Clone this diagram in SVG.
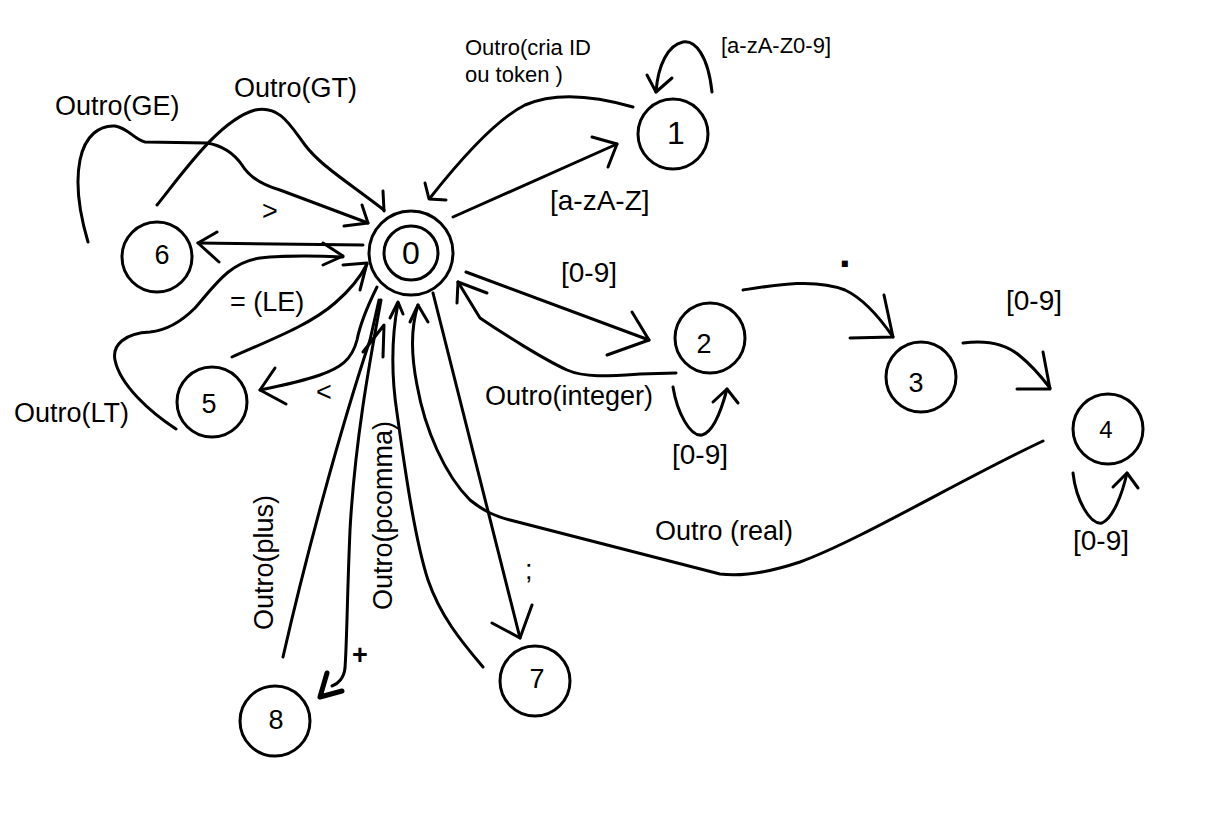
<svg xmlns="http://www.w3.org/2000/svg" width="1216" height="820" viewBox="0 0 1216 820">
<style>
  .bg{fill:#fff}
  .node circle{fill:none;stroke:#000;stroke-width:3}
  .node text{font-family:"Liberation Sans",Arial,sans-serif;font-size:27px;fill:#000;text-anchor:middle}
  .edge path{fill:none;stroke:#000;stroke-width:3;stroke-linecap:round;stroke-linejoin:round}
  .edge path.bold{stroke-width:5}
  .lbl{font-family:"Liberation Sans",Arial,sans-serif;font-size:27px;fill:#000}
  .br{font-size:28px}
  .sm{font-size:22px}
</style>
<rect class="bg" x="0" y="0" width="1216" height="820"/>

<g id="connectors" class="edge">
  <!-- 0 -> 1 -->
  <path d="M453,217 L617,144"/>
  <path d="M592,137 L617,144 L608,167"/>
  <!-- 1 -> 0 Outro(cria ID ou token) -->
  <path d="M633,107 C595,96 555,92 525,105 C495,120 460,160 430,198"/>
  <path d="M425,183 L429,199 L446,200"/>
  <!-- 1 self loop -->
  <path d="M712,92 C708,55 695,40 683,42 C668,45 658,65 656,92"/>
  <path d="M647,75 L656,92 L672,78"/>
  <!-- 0 -> 2 -->
  <path d="M466,272 L649,340"/>
  <path d="M632,312 L649,340 L607,355"/>
  <!-- 2 -> 0 Outro(integer) -->
  <path d="M676,373 L640,374 C610,376 585,378 567,370 C545,360 505,335 480,318 L458,282"/>
  <path d="M457,303 L458,282 L487,293"/>
  <!-- 2 self loop -->
  <path d="M673,387 C677,412 690,437 702,435 C714,432 722,408 727,389"/>
  <path d="M713,402 L727,389 L738,403"/>
  <!-- 2 -> 3 -->
  <path d="M743,290 C775,285 815,278 845,290 C862,298 880,318 893,337"/>
  <path d="M850,338 L893,337 L884,295"/>
  <!-- 3 -> 4 -->
  <path d="M963,343 C985,340 1005,343 1020,356 C1030,364 1040,375 1050,388"/>
  <path d="M1017,389 L1050,389 L1043,352"/>
  <!-- 4 self loop -->
  <path d="M1073,473 C1076,500 1090,525 1102,523 C1113,518 1122,495 1127,473"/>
  <path d="M1113,487 L1127,473 L1138,488"/>
  <!-- 4 -> 0 Outro (real) -->
  <path d="M1043,441 C960,480 860,540 800,562 C770,572 745,577 720,574 L510,520 C495,516 485,512 470,500 C445,475 425,430 417,385 C412,360 410,330 418,305"/>
  <path d="M410,322 L418,305 L428,322"/>
  <!-- 7 -> 0 Outro(pcomma) -->
  <path d="M483,667 C460,640 440,615 428,580 C415,540 405,470 397,413 C392,380 391,340 398,303"/>
  <path d="M390,318 L398,302 L403,314"/>
  <!-- 0 -> 7 ; -->
  <path d="M433,293 L520,638"/>
  <path d="M492,623 L520,638 L532,605"/>
  <!-- 0 -> 8 + -->
  <path d="M381,300 C370,360 355,440 350,530 C347,600 347,640 345,668 C344,678 338,684 332,686"/>
  <path class="bold" d="M327,673 L320,697 L342,691"/>
  <!-- 8 -> 0 Outro(plus) -->
  <path d="M283,657 C305,560 340,430 370,340 L379,300"/>
  <path d="M383,357 L384,325 L363,352"/>
  <!-- 0 -> 5 < -->
  <path d="M377,287 C368,305 360,325 357,340 C352,360 340,368 320,375 C300,382 280,386 260,390"/>
  <path d="M275,368 L260,390 L286,404"/>
  <!-- 5 -> 0 = (LE) -->
  <path d="M232,357 C270,340 310,325 335,303 C350,290 360,278 367,264"/>
  <path d="M343,265 L367,263 L360,290"/>
  <!-- 5 -> 0 Outro(LT) -->
  <path d="M176,429 C150,412 120,385 115,360 C112,345 125,333 150,332 C170,330 185,318 195,308 C215,285 230,262 260,258 C290,255 320,256 343,257"/>
  <path d="M323,243 L343,256 L323,265"/>
  <!-- 0 -> 6 > -->
  <path d="M363,245 L198,243"/>
  <path d="M217,232 L198,243 L219,262"/>
  <!-- 6 -> 0 Outro(GE) -->
  <path d="M88,242 C80,215 75,185 80,160 C85,135 100,125 115,126 C128,128 135,140 145,142 L207,143 C225,146 235,155 242,165 C250,178 262,185 280,190 L368,223"/>
  <path d="M362,205 L368,223 L344,226"/>
  <!-- 6 -> 0 Outro(GT) -->
  <path d="M157,205 C185,170 220,120 255,110 C280,105 290,125 305,145 C320,165 345,180 384,210"/>
  <path d="M383,191 L384,211"/>
</g>

<g id="labels">
  <text class="lbl sm" x="465" y="55">Outro(cria ID</text>
  <text class="lbl sm" x="465" y="82">ou token )</text>
  <text class="lbl sm" x="721" y="53">[a-zA-Z0-9]</text>
  <text class="lbl br" x="550" y="210">[a-zA-Z]</text>
  <text class="lbl br" x="561" y="282">[0-9]</text>
  <text class="lbl" x="485" y="405">Outro(integer)</text>
  <text class="lbl br" x="672" y="464">[0-9]</text>
  <text class="lbl" x="839" y="267" style="font-size:42px;font-weight:bold">.</text>
  <text class="lbl br" x="1006" y="310">[0-9]</text>
  <text class="lbl br" x="1073" y="550">[0-9]</text>
  <text class="lbl" x="655" y="540">Outro (real)</text>
  <text class="lbl" x="525" y="579">;</text>
  <text class="lbl" x="352" y="664" style="font-weight:bold">+</text>
  <text class="lbl" transform="translate(273,630) rotate(-90)">Outro(plus)</text>
  <text class="lbl" transform="translate(392,610) rotate(-90)">Outro(pcomma)</text>
  <text class="lbl" x="55" y="115">Outro(GE)</text>
  <text class="lbl" x="234" y="97">Outro(GT)</text>
  <text class="lbl" x="262" y="220">&gt;</text>
  <text class="lbl" x="230" y="311">= (LE)</text>
  <text class="lbl" x="14" y="422">Outro(LT)</text>
  <text class="lbl" x="316" y="401">&lt;</text>
</g>

<g id="node0" class="node">
  <circle cx="411" cy="253" r="42"/>
  <circle cx="411" cy="253" r="27"/>
  <text x="411" y="264" style="font-size:32px">0</text>
</g>
<g id="node1" class="node">
  <circle cx="673" cy="134" r="35"/>
  <text x="676" y="144" style="font-size:32px">1</text>
</g>
<g id="node2" class="node">
  <circle cx="710" cy="338" r="35"/>
  <text x="704" y="353">2</text>
</g>
<g id="node3" class="node">
  <circle cx="921" cy="377" r="35"/>
  <text x="916" y="392">3</text>
</g>
<g id="node4" class="node">
  <circle cx="1108" cy="429" r="35"/>
  <text x="1106" y="438" style="font-size:24px">4</text>
</g>
<g id="node5" class="node">
  <circle cx="212" cy="402" r="35"/>
  <text x="209" y="413">5</text>
</g>
<g id="node6" class="node">
  <circle cx="157" cy="257" r="35"/>
  <text x="162" y="264">6</text>
</g>
<g id="node7" class="node">
  <circle cx="535" cy="681" r="35"/>
  <text x="537" y="688">7</text>
</g>
<g id="node8" class="node">
  <circle cx="275" cy="721" r="35"/>
  <text x="276" y="729">8</text>
</g>
</svg>
